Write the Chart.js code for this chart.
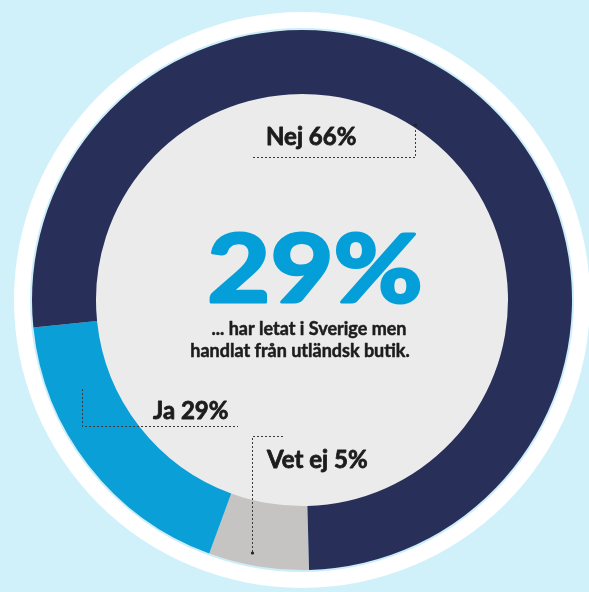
<!DOCTYPE html>
<html>
<head>
<meta charset="utf-8">
<script src="https://cdn.jsdelivr.net/npm/chart.js@4"></script>
<style>
  html, body { margin: 0; padding: 0; background: #d0f0fa; }
  #wrap { width: 589px; height: 592px; position: relative; }
  canvas { display: block; }
</style>
</head>
<body>
<div id="wrap"><canvas id="c" width="589" height="592"></canvas></div>
<script>
// Categories, in drawing order (clockwise from the bottom)
const categories = ['Vet ej', 'Ja', 'Nej'];
// Percentages printed in the reference labels
const printedShares = [5, 29, 66];
// Arc sizes as actually drawn in the reference (its arcs are not proportional to the printed numbers)
const arcShares = [6.0, 17.8, 76.2];
const colors = ['#c6c4c2', '#0a9fd6', '#28305a'];
const headline = printedShares[1] + '%';
const subtitleLines = ['... har letat i Sverige men', 'handlat från utländsk butik.'];

const decor = {
  id: 'decor',
  beforeDatasetsDraw(chart) {
    const arc = chart.getDatasetMeta(0).data[0];
    const {x, y, outerRadius, innerRadius} = arc;
    const ctx = chart.ctx;
    ctx.save();
    ctx.fillStyle = '#ffffff';
    ctx.beginPath(); ctx.arc(x, y, outerRadius + 18, 0, Math.PI * 2); ctx.fill();
    ctx.fillStyle = '#cdeef9';
    ctx.beginPath(); ctx.arc(x, y, outerRadius + 2, 0, Math.PI * 2); ctx.fill();
    ctx.fillStyle = '#ebebeb';
    ctx.beginPath(); ctx.arc(x, y, innerRadius + 1, 0, Math.PI * 2); ctx.fill();
    ctx.restore();
  },
  afterDatasetsDraw(chart) {
    const arc = chart.getDatasetMeta(0).data[0];
    const cx = arc.x, cy = arc.y;
    const ctx = chart.ctx;
    ctx.save();
    // dotted leader lines
    ctx.strokeStyle = '#3a3a3a';
    ctx.lineWidth = 1;
    ctx.setLineDash([2, 2]);
    const line = (pts) => {
      ctx.beginPath();
      ctx.moveTo(cx + pts[0][0], cy + pts[0][1]);
      for (let i = 1; i < pts.length; i++) ctx.lineTo(cx + pts[i][0], cy + pts[i][1]);
      ctx.stroke();
    };
    const dot = (p) => {
      ctx.fillStyle = '#222';
      ctx.beginPath(); ctx.arc(cx + p[0], cy + p[1], 1.6, 0, Math.PI * 2); ctx.fill();
    };
    // Nej
    line([[-49, -142.5], [113.5, -142.5], [113.5, -175]]);
    dot([113.5, -175]);
    // Ja
    line([[-219.5, 89], [-219.5, 126.5], [-64, 126.5]]);
    // Vet ej
    line([[-19, 136.5], [-49.5, 136.5], [-49.5, 253]]);
    dot([-49.5, 253]);
    ctx.setLineDash([]);

    const heavyText = (txt, x, y, sw) => {
      ctx.lineWidth = sw;
      ctx.lineJoin = 'round';
      ctx.strokeText(txt, x, y);
      ctx.fillText(txt, x, y);
    };

    // labels
    ctx.fillStyle = '#1c1c1c';
    ctx.strokeStyle = '#1c1c1c';
    ctx.textBaseline = 'alphabetic';
    ctx.textAlign = 'left';
    ctx.font = 'bold 24px Lato';
    heavyText(categories[2] + ' ' + printedShares[2] + '%', cx - 36, cy - 155, 0.8);
    heavyText(categories[1] + ' ' + printedShares[1] + '%', cx - 149, cy + 119, 0.8);
    heavyText(categories[0] + ' ' + printedShares[0] + '%', cx - 35, cy + 168, 0.8);

    // headline
    ctx.save();
    ctx.fillStyle = '#049fd9';
    ctx.strokeStyle = '#049fd9';
    ctx.textAlign = 'center';
    ctx.font = 'bold 93px Lato';
    ctx.translate(cx + 13, cy + 2);
    ctx.scale(1.17, 1);
    heavyText(headline, 0, 0, 3);
    ctx.restore();

    // subtitle
    ctx.fillStyle = '#1c1c1c';
    ctx.strokeStyle = '#1c1c1c';
    ctx.textAlign = 'center';
    ctx.font = 'bold 18px Lato';
    heavyText(subtitleLines[0], cx + 7, cy + 35, 0.5);
    heavyText(subtitleLines[1], cx - 2, cy + 57, 0.5);
    ctx.restore();
  }
};

new Chart(document.getElementById('c'), {
  type: 'doughnut',
  data: {
    labels: categories,
    datasets: [{
      data: arcShares,
      backgroundColor: colors,
      borderWidth: 0
    }]
  },
  options: {
    responsive: false,
    animation: false,
    rotation: 178.5,
    cutout: 206,
    radius: 270,
    layout: { padding: { left: 32, right: 17, top: 30, bottom: 22 } },
    plugins: { legend: { display: false }, tooltip: { enabled: false } }
  },
  plugins: [decor]
});
</script>
</body>
</html>
